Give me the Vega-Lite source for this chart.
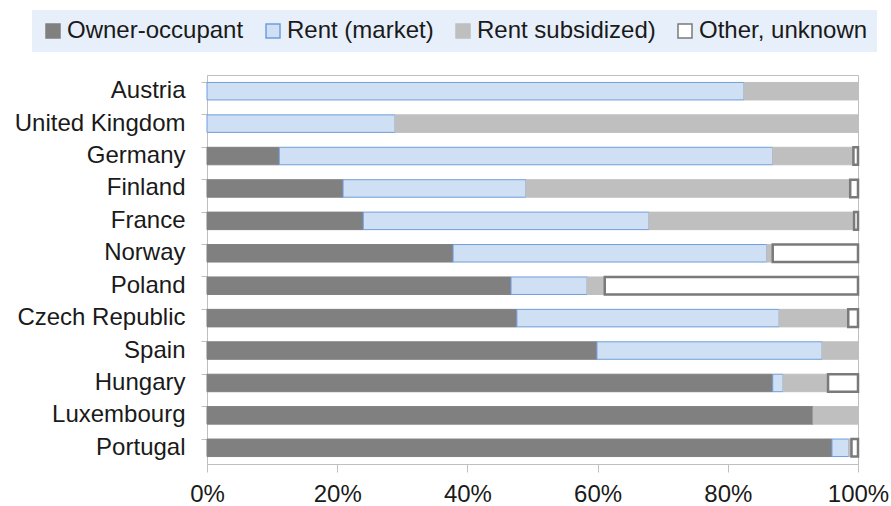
{
  "$schema": "https://vega.github.io/schema/vega-lite/v6.json",
  "width": 651,
  "height": 389,
  "autosize": {"type": "none"},
  "padding": {"left": 207, "top": 75, "right": 33, "bottom": 42},
  "background": "white",
  "config": {
    "font": "Liberation Sans",
    "view": {"stroke": "#bfbfbf", "strokeWidth": 1}
  },
  "data": {
    "values": [
      {"country": "Austria", "cat": "Rent (market)", "o": 2, "v": 82.5},
      {"country": "Austria", "cat": "Rent subsidized)", "o": 3, "v": 17.5},
      {"country": "United Kingdom", "cat": "Rent (market)", "o": 2, "v": 28.9},
      {"country": "United Kingdom", "cat": "Rent subsidized)", "o": 3, "v": 71.1},
      {"country": "Germany", "cat": "Owner-occupant", "o": 1, "v": 11.1},
      {"country": "Germany", "cat": "Rent (market)", "o": 2, "v": 75.8},
      {"country": "Germany", "cat": "Rent subsidized)", "o": 3, "v": 12.4},
      {"country": "Germany", "cat": "Other, unknown", "o": 4, "v": 0.7},
      {"country": "Finland", "cat": "Owner-occupant", "o": 1, "v": 20.9},
      {"country": "Finland", "cat": "Rent (market)", "o": 2, "v": 28.1},
      {"country": "Finland", "cat": "Rent subsidized)", "o": 3, "v": 49.8},
      {"country": "Finland", "cat": "Other, unknown", "o": 4, "v": 1.2},
      {"country": "France", "cat": "Owner-occupant", "o": 1, "v": 24.0},
      {"country": "France", "cat": "Rent (market)", "o": 2, "v": 43.9},
      {"country": "France", "cat": "Rent subsidized)", "o": 3, "v": 31.5},
      {"country": "France", "cat": "Other, unknown", "o": 4, "v": 0.6},
      {"country": "Norway", "cat": "Owner-occupant", "o": 1, "v": 37.8},
      {"country": "Norway", "cat": "Rent (market)", "o": 2, "v": 48.2},
      {"country": "Norway", "cat": "Rent subsidized)", "o": 3, "v": 0.9},
      {"country": "Norway", "cat": "Other, unknown", "o": 4, "v": 13.1},
      {"country": "Poland", "cat": "Owner-occupant", "o": 1, "v": 46.7},
      {"country": "Poland", "cat": "Rent (market)", "o": 2, "v": 11.7},
      {"country": "Poland", "cat": "Rent subsidized)", "o": 3, "v": 2.7},
      {"country": "Poland", "cat": "Other, unknown", "o": 4, "v": 38.9},
      {"country": "Czech Republic", "cat": "Owner-occupant", "o": 1, "v": 47.6},
      {"country": "Czech Republic", "cat": "Rent (market)", "o": 2, "v": 40.3},
      {"country": "Czech Republic", "cat": "Rent subsidized)", "o": 3, "v": 10.6},
      {"country": "Czech Republic", "cat": "Other, unknown", "o": 4, "v": 1.5},
      {"country": "Spain", "cat": "Owner-occupant", "o": 1, "v": 59.9},
      {"country": "Spain", "cat": "Rent (market)", "o": 2, "v": 34.6},
      {"country": "Spain", "cat": "Rent subsidized)", "o": 3, "v": 5.5},
      {"country": "Hungary", "cat": "Owner-occupant", "o": 1, "v": 86.9},
      {"country": "Hungary", "cat": "Rent (market)", "o": 2, "v": 1.6},
      {"country": "Hungary", "cat": "Rent subsidized)", "o": 3, "v": 6.9},
      {"country": "Hungary", "cat": "Other, unknown", "o": 4, "v": 4.6},
      {"country": "Luxembourg", "cat": "Owner-occupant", "o": 1, "v": 93.1},
      {"country": "Luxembourg", "cat": "Rent subsidized)", "o": 3, "v": 6.9},
      {"country": "Portugal", "cat": "Owner-occupant", "o": 1, "v": 96.0},
      {"country": "Portugal", "cat": "Rent (market)", "o": 2, "v": 2.6},
      {"country": "Portugal", "cat": "Rent subsidized)", "o": 3, "v": 0.4},
      {"country": "Portugal", "cat": "Other, unknown", "o": 4, "v": 1.0}
    ]
  },
  "mark": {"type": "bar"},
  "encoding": {
    "y": {
      "field": "country",
      "type": "nominal",
      "sort": null,
      "title": null,
      "scale": {"paddingInner": 0.46, "paddingOuter": 0.23},
      "axis": {
        "labelFontSize": 24,
        "labelColor": "#1a1a1a",
        "labelPadding": 16,
        "tickSize": 6,
        "tickColor": "#bfbfbf",
        "domainColor": "#bfbfbf",
        "bandPosition": 0,
        "labelLimit": 250
      }
    },
    "x": {
      "field": "v",
      "type": "quantitative",
      "stack": "zero",
      "title": null,
      "scale": {"domain": [0, 100], "nice": false},
      "axis": {
        "values": [0, 20, 40, 60, 80, 100],
        "labelExpr": "datum.value + '%'",
        "labelFontSize": 24,
        "labelColor": "#1a1a1a",
        "labelPadding": 10,
        "tickSize": 8,
        "tickColor": "#bfbfbf",
        "domainColor": "#bfbfbf",
        "grid": false,
        "labelFlush": false
      }
    },
    "order": {"field": "o", "type": "quantitative"},
    "fill": {
      "field": "cat",
      "type": "nominal",
      "scale": {
        "domain": ["Owner-occupant", "Rent (market)", "Rent subsidized)", "Other, unknown"],
        "range": ["#808080", "#cfdff4", "#bfbfbf", "#ffffff"]
      },
      "legend": {
        "title": null,
        "orient": "none",
        "legendX": -175,
        "legendY": -65,
        "direction": "horizontal",
        "columns": 4,
        "fillColor": "#e7effa",
        "padding": 9,
        "labelFontSize": 24,
        "labelColor": "#1a1a1a",
        "labelFont": "Liberation Sans",
        "labelLimit": 300,
        "symbolType": "square",
        "symbolSize": 196,
        "symbolStrokeWidth": 1.5,
        "labelOffset": 2,
        "columnPadding": 17
      }
    },
    "stroke": {
      "field": "cat",
      "type": "nominal",
      "scale": {
        "domain": ["Owner-occupant", "Rent (market)", "Rent subsidized)", "Other, unknown"],
        "range": ["#808080", "#6f9edb", "#bfbfbf", "#7a7a7a"]
      },
      "legend": null
    },
    "strokeWidth": {
      "condition": {"test": "datum.cat === 'Other, unknown'", "value": 2.5},
      "value": 1
    }
  }
}
